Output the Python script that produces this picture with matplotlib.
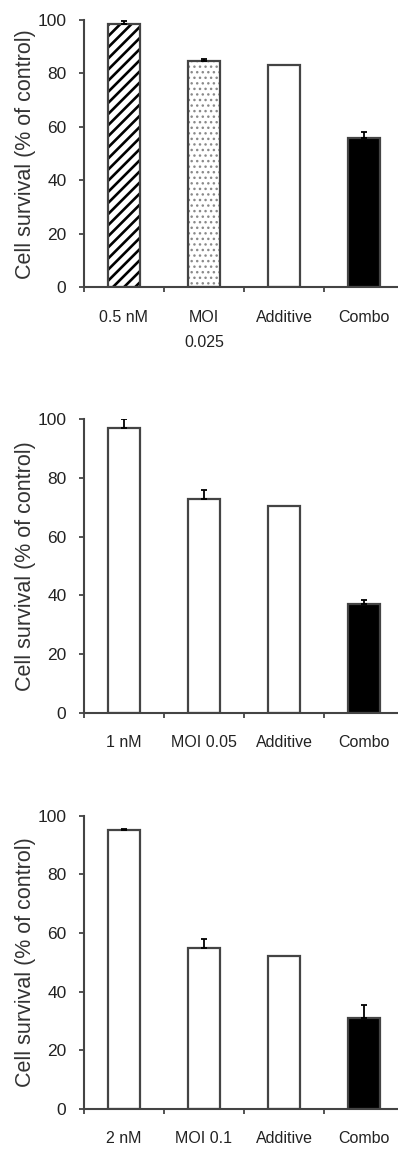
import numpy as np
import matplotlib
matplotlib.use("Agg")
import matplotlib.pyplot as plt

plt.rcParams['font.family'] = ['Liberation Sans', 'DejaVu Sans']

# values (% of control)
labels1 = ['0.5 nM', 'MOI\n0.025', 'Additive', 'Combo']
vals1 = [98.5, 84.5, 83, 56]
err1 = [1, 1, 0, 2]

labels2 = ['1 nM', 'MOI 0.05', 'Additive', 'Combo']
vals2 = [97, 73, 70.5, 37]
err2 = [3, 3, 0, 1.5]

labels3 = ['2 nM', 'MOI 0.1', 'Additive', 'Combo']
vals3 = [95, 55, 52, 31]
err3 = [0.5, 3, 0, 4.5]

edge = '#444444'
txt = '#222222'

fig = plt.figure(figsize=(3.98, 11.51), dpi=100)

# [left, bottom, width, height] in figure fraction
boxes = [[0.211, 0.7504, 0.804, 0.2322],
         [0.211, 0.3807, 0.804, 0.2550],
         [0.211, 0.0365, 0.804, 0.2548]]


def panel(ax, labels, vals, errs, styles):
    x = np.arange(len(vals))
    for i in range(len(vals)):
        st = styles[i]
        if st == 'hatch':
            with plt.rc_context({'hatch.linewidth': 1.9}):
                ax.bar(x[i], vals[i], width=0.4, color='white', edgecolor='black',
                       hatch='///', linewidth=0, zorder=2)
        elif st == 'dots':
            with plt.rc_context({'hatch.linewidth': 1.0}):
                ax.bar(x[i], vals[i], width=0.4, color='white', edgecolor='#8a8a8a',
                       hatch='...', linewidth=0, zorder=2)
        elif st == 'black':
            ax.bar(x[i], vals[i], width=0.4, color='black', linewidth=0, zorder=2)
        # outline
        ax.bar(x[i], vals[i], width=0.4, fill=False, edgecolor=edge, linewidth=1.6, zorder=3)
    e = np.array(errs, dtype=float)
    m = e > 0
    ax.errorbar(x[m], np.array(vals)[m], yerr=[np.zeros(m.sum()), e[m]], fmt='none',
                ecolor='black', elinewidth=1.3, capsize=2.5, capthick=1.3, zorder=4)

    ax.set_xlim(-0.5, 3.5)
    ax.set_ylim(0, 100)
    ax.set_yticks([0, 20, 40, 60, 80, 100])
    ax.set_xticks(x)
    ax.set_xticklabels(labels, linespacing=1.9)
    ax.set_xticks([-0.5, 0.5, 1.5, 2.5], minor=True)
    ax.tick_params(axis='x', which='major', length=0, pad=16, labelsize=11.5, labelcolor=txt)
    ax.tick_params(axis='x', which='minor', length=3.6, width=1.3, direction='out', color=edge)
    ax.tick_params(axis='y', length=3.6, width=1.3, direction='out', color=edge,
                   pad=9, labelsize=12.5, labelcolor=txt)
    for s in ['top', 'right']:
        ax.spines[s].set_visible(False)
    for s in ['left', 'bottom']:
        ax.spines[s].set_color(edge)
        ax.spines[s].set_linewidth(1.5)
    ax.set_ylabel('Cell survival (% of control)', fontsize=15.5, color='#333333')
    ax.yaxis.set_label_coords(-0.15, 0.5)


ax1 = fig.add_axes(boxes[0])
panel(ax1, labels1, vals1, err1, ['hatch', 'dots', 'white', 'black'])
ax2 = fig.add_axes(boxes[1])
panel(ax2, labels2, vals2, err2, ['white', 'white', 'white', 'black'])
ax3 = fig.add_axes(boxes[2])
panel(ax3, labels3, vals3, err3, ['white', 'white', 'white', 'black'])

fig.savefig('out.png', dpi=100)
